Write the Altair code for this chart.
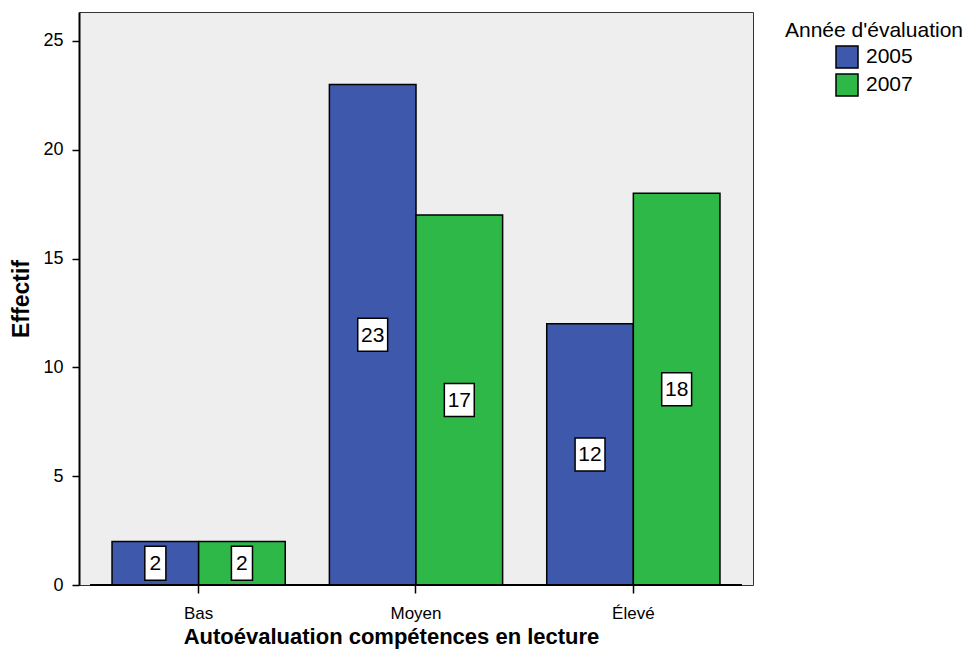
import altair as alt
import pandas as pd

categories = ["Bas", "Moyen", "Élevé"]
years = ["2005", "2007"]
values_2005 = [2, 23, 12]
values_2007 = [2, 17, 18]
colors = ["#3E58AC", "#2EB848"]

rows = []
for i, c in enumerate(categories):
    for y, vals in zip(years, [values_2005, values_2007]):
        v = vals[i]
        rows.append({"cat": c, "year": y, "n": v, "mid": v / 2,
                     "digits": str(len(str(v)))})
df = pd.DataFrame(rows)

FONT = "Liberation Sans"

x_enc = alt.X("cat:N", sort=categories,
              scale=alt.Scale(paddingInner=0.203, paddingOuter=0.152),
              axis=alt.Axis(title="Autoévaluation compétences en lecture",
                            labelAngle=0, labelFontSize=17, labelColor="black",
                            labelBaseline="alphabetic", labelPadding=25,
                            tickSize=8, tickColor="black", tickWidth=1.5,
                            domain=False,
                            titleFontSize=22, titleFontWeight="bold",
                            titleColor="black", titleX=312, titleY=58,
                            titleBaseline="alphabetic", titleAnchor="middle"))
xoff = alt.XOffset("year:N", sort=years, scale=alt.Scale(paddingInner=0, paddingOuter=0))

bars = alt.Chart(df).mark_bar(stroke="black", strokeWidth=1.5, opacity=1).encode(
    x=x_enc,
    xOffset=xoff,
    y=alt.Y("n:Q", scale=alt.Scale(domain=[0, 26.33], nice=False, zero=True),
            axis=alt.Axis(title="Effectif", values=[0, 5, 10, 15, 20, 25],
                          grid=False, labelFontSize=18, labelColor="black",
                          labelPadding=9, tickSize=7, tickColor="black",
                          tickWidth=1.5, domainColor="black", domainWidth=2,
                          titleFontSize=23, titleFontWeight="bold",
                          titleColor="black", titleX=-51,
                          titleBaseline="alphabetic")),
    fill=alt.Fill("year:N", sort=years,
                  scale=alt.Scale(domain=years, range=colors),
                  legend=alt.Legend(title="Année d'évaluation", orient="none",
                                    legendX=706, legendY=8,
                                    titleFontSize=21, titleFontWeight="normal",
                                    titleColor="black", titleBaseline="top",
                                    titlePadding=4, labelFontSize=21,
                                    labelColor="black", symbolType="square",
                                    symbolSize=484, symbolStrokeColor="black",
                                    symbolStrokeWidth=1.5, symbolOpacity=1,
                                    symbolOffset=50, labelOffset=7,
                                    rowPadding=0)),
)

boxes = alt.Chart(df).mark_point(filled=True, fill="white", stroke="black",
                                 strokeWidth=1.5, opacity=1, size=1156).encode(
    x=alt.X("cat:N", sort=categories),
    xOffset=xoff,
    y=alt.Y("mid:Q"),
    shape=alt.Shape("digits:N",
                    scale=alt.Scale(domain=["1", "2"],
                                    range=["M-0.62,-1H0.62V1H-0.62Z",
                                           "M-0.88,-0.97H0.88V0.97H-0.88Z"]),
                    legend=None),
)

labels = alt.Chart(df).mark_text(fontSize=21, color="black", baseline="middle",
                                 align="center", dy=1).encode(
    x=alt.X("cat:N", sort=categories),
    xOffset=xoff,
    y=alt.Y("mid:Q"),
    text=alt.Text("n:Q"),
)

baseline = alt.Chart(pd.DataFrame({"z": [0]})).mark_rule(
    color="black", strokeWidth=2).encode(
    y=alt.datum(0), x=alt.value(11), x2=alt.value(663))

chart = alt.layer(bars, baseline, boxes, labels).properties(
    width=674, height=573,
    autosize=alt.AutoSizeParams(type="none"),
    padding={"left": 71, "top": 4, "right": 210, "bottom": 65},
).configure(font=FONT).configure_view(
    fill="#EEEEEE", stroke="#333333", strokeWidth=1
).configure_legend(padding=0)

chart.save("out.html", embed_options={"renderer": "svg", "actions": False})
